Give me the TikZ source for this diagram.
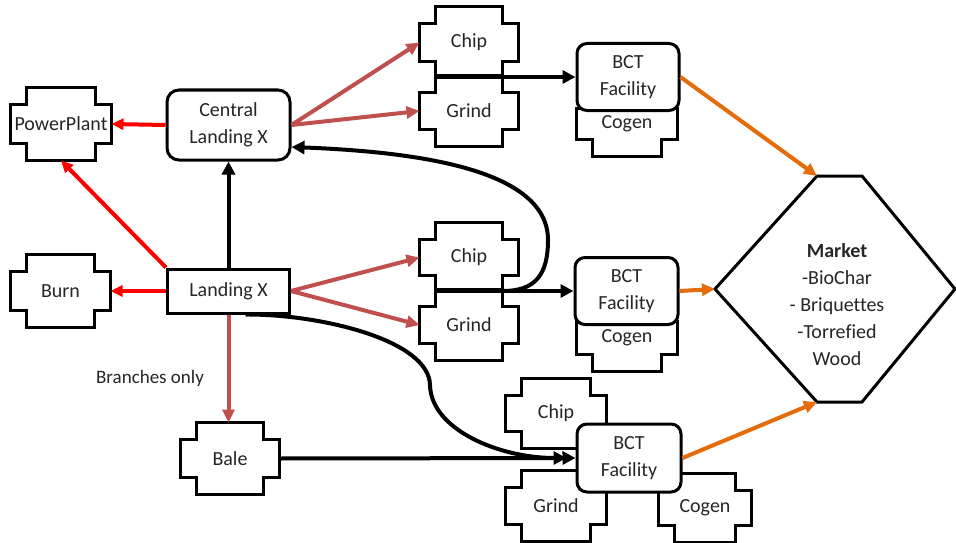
\documentclass[tikz,border=0pt]{standalone}
\usepackage{fontspec}
\setmainfont{Carlito}[Ligatures=NoCommon]
\usetikzlibrary{arrows.meta}
\newdimen\plqL \newdimen\plqR \newdimen\plqT \newdimen\plqB
\newdimen\plqLi \newdimen\plqRi \newdimen\plqTi \newdimen\plqBi
\makeatletter
\pgfdeclareshape{plaque}{%
  \inheritsavedanchors[from=rectangle]%
  \inheritanchorborder[from=rectangle]%
  \inheritanchor[from=rectangle]{center}%
  \inheritanchor[from=rectangle]{north}%
  \inheritanchor[from=rectangle]{south}%
  \inheritanchor[from=rectangle]{east}%
  \inheritanchor[from=rectangle]{west}%
  \inheritanchor[from=rectangle]{north east}%
  \inheritanchor[from=rectangle]{north west}%
  \inheritanchor[from=rectangle]{south east}%
  \inheritanchor[from=rectangle]{south west}%
  \inheritanchor[from=rectangle]{mid}%
  \inheritanchor[from=rectangle]{base}%
  \backgroundpath{%
    \southwest \plqL=\pgf@x \plqB=\pgf@y
    \northeast \plqR=\pgf@x \plqT=\pgf@y
    \plqLi=\plqL \advance\plqLi by 16pt
    \plqRi=\plqR \advance\plqRi by -16pt
    \plqTi=\plqT \advance\plqTi by -17pt
    \plqBi=\plqB \advance\plqBi by 17pt
    \pgfpathmoveto{\pgfqpoint{\plqLi}{\plqT}}%
    \pgfpathlineto{\pgfqpoint{\plqRi}{\plqT}}%
    \pgfpathlineto{\pgfqpoint{\plqRi}{\plqTi}}%
    \pgfpathlineto{\pgfqpoint{\plqR}{\plqTi}}%
    \pgfpathlineto{\pgfqpoint{\plqR}{\plqBi}}%
    \pgfpathlineto{\pgfqpoint{\plqRi}{\plqBi}}%
    \pgfpathlineto{\pgfqpoint{\plqRi}{\plqB}}%
    \pgfpathlineto{\pgfqpoint{\plqLi}{\plqB}}%
    \pgfpathlineto{\pgfqpoint{\plqLi}{\plqBi}}%
    \pgfpathlineto{\pgfqpoint{\plqL}{\plqBi}}%
    \pgfpathlineto{\pgfqpoint{\plqL}{\plqTi}}%
    \pgfpathlineto{\pgfqpoint{\plqLi}{\plqTi}}%
    \pgfpathclose
  }%
}
\makeatother
\definecolor{myred}{HTML}{FF0000}
\definecolor{mypink}{HTML}{C0504D}
\definecolor{myorange}{HTML}{E46C0A}
\begin{document}
\begin{tikzpicture}[x=1pt,y=-1pt,
  every node/.style={text=black!85, font=\fontsize{20}{27}\selectfont},
  plq/.style={shape=plaque, draw=black, line width=3pt, fill=white, inner sep=0pt,
    minimum width=96pt, minimum height=68pt},
  rbox/.style={draw=black, line width=3pt, fill=white, rounded corners=10pt,
    inner sep=0pt, align=center},
  sbox/.style={draw=black, line width=3pt, fill=white, inner sep=0pt, align=center},
  blk/.style={draw=black, line width=4pt, -{Triangle[length=13pt,width=13pt]}},
  redar/.style={draw=myred, line width=4pt, -{Triangle[length=12pt,width=11pt]}},
  pinkar/.style={draw=mypink, line width=4pt, -{Triangle[length=13pt,width=12pt]}},
  orar/.style={draw=myorange, line width=4pt, -{Triangle[length=13pt,width=12pt]}},
]
\fill[white] (0,0) rectangle (956,543);
\useasboundingbox (0,0) rectangle (956,543);

% shapes partly hidden behind BCT facilities
\node[plq, minimum width=98pt, minimum height=62pt] (cogen1) at (627,124) {Cogen};
\node[plq, minimum width=98pt, minimum height=64pt] (cogen2) at (627,338) {Cogen};
\node[plq, minimum width=98pt, minimum height=67pt] (chip3) at (556,413.5) {Chip};
\node[plq, minimum width=98pt, minimum height=68pt] (grind3) at (556,506) {Grind};
\node[plq, minimum width=90pt, minimum height=66pt] (cogen3) at (705,508) {Cogen};

% BCT facilities
\node[rbox, minimum width=102pt, minimum height=67pt] (bct1) at (628,77) {BCT\\Facility};
\node[rbox, minimum width=103pt, minimum height=67pt] (bct2) at (626.5,291) {BCT\\Facility};
\node[rbox, minimum width=104pt, minimum height=68pt] (bct3) at (629,458) {BCT\\Facility};

% other nodes
\node[plq, minimum width=98pt, minimum height=70pt] (pp) at (61,124) {PowerPlant};
\node[plq, minimum width=97pt, minimum height=70pt] (burn) at (60.5,291) {Burn};
\node[rbox, rounded corners=12pt, minimum width=123pt, minimum height=70pt] (cl) at (228.5,125) {Central\\Landing X};
\node[sbox, minimum width=122pt, minimum height=44pt] (lx) at (228.5,291) {Landing X};
\node[plq, minimum height=69pt] (bale) at (230,458.5) {Bale};
\node[plq, minimum height=69pt] (chip1) at (469,42.5) {Chip};
\node[plq] (grind1) at (469,111) {Grind};
\node[plq, minimum height=67pt] (chip2) at (469,257.5) {Chip};
\node[plq] (grind2) at (469,325) {Grind};
\node[font=\fontsize{19}{23}\selectfont] (brl) at (150,378) {Branches only};

% market hexagon
\coordinate (mkL) at (715,289);
\coordinate (mkTL) at (817,176);
\coordinate (mkTR) at (862,176);
\coordinate (mkR) at (955,289);
\coordinate (mkBR) at (862,402);
\coordinate (mkBL) at (817,402);
\draw[line width=3pt, fill=white] (mkL) -- (mkTL) -- (mkTR) -- (mkR) -- (mkBR) -- (mkBL) -- cycle;
\node[align=center] (market) at (837,305) {\textbf{Market}\\-BioChar\\- Briquettes\\-Torrefied\\Wood};

% junction points
\coordinate (j1) at (436,77);
\coordinate (j2a) at (436,291);
\coordinate (j2) at (503,291);

% connectors
\draw[redar] (cl.west) -- (pp.east);
\draw[redar] (lx.north west) -- (pp.south);
\draw[redar] (lx.west) -- (burn.east);
\draw[blk] (lx.north) -- (cl.south);
\draw[pinkar] (cl.east) -- (chip1.west);
\draw[pinkar] (cl.east) -- (grind1.west);
\draw[pinkar] (lx.east) -- (chip2.west);
\draw[pinkar] (lx.east) -- (grind2.west);
\draw[pinkar] (lx.south) -- (lx.south |- bale.north);
\draw[blk] (j1) -- (bct1.west);
\draw[blk] (j2a) -- (bct2.west);
\draw[blk] (j2) .. controls (535,291) and (548,275) .. (548,240)
  .. controls (548,170) and (420,152) .. ([yshift=-22pt]cl.east);
\draw[blk] (bale.east) -- (bct3.west);
\draw[blk, shorten >=9pt] ([xshift=17pt]lx.south) .. controls (320,314) and (429,340) .. (430,385)
  .. controls (431,430) and (500,458) .. (bct3.west);
\draw[orar] (bct1.east) -- (mkTL);
\draw[orar] (bct2.east) -- (mkL);
\draw[orar] (bct3.east) -- (mkBL);
\end{tikzpicture}
\end{document}
